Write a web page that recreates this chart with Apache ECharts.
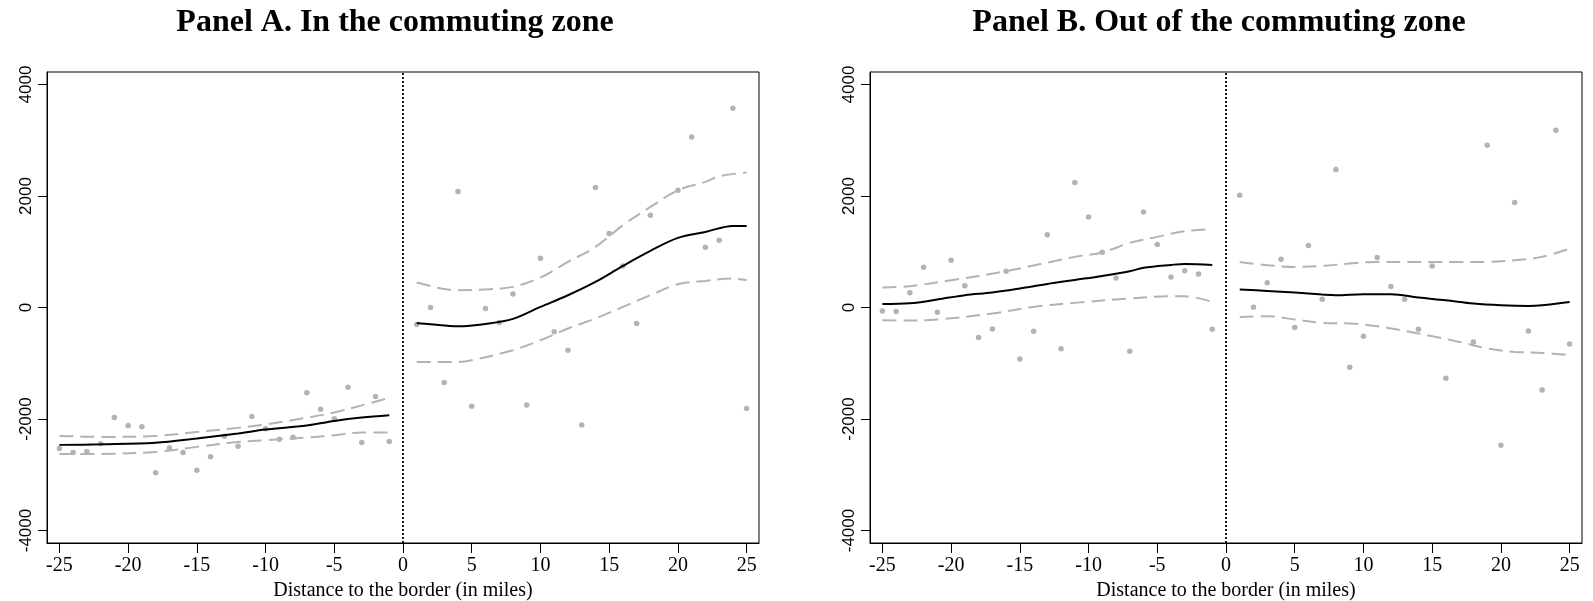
<!DOCTYPE html>
<html>
<head>
<meta charset="utf-8">
<script src="https://cdn.jsdelivr.net/npm/echarts@6/dist/echarts.min.js"></script>
<style>
html,body{margin:0;padding:0;background:#fff;}
#chart{width:1593px;height:601px;}
</style>
</head>
<body>
<div id="chart"></div>
<script>
// ---- tick labels ----
const xTicks = [-25, -20, -15, -10, -5, 0, 5, 10, 15, 20, 25];
const yTicks = [-4000, -2000, 0, 2000, 4000];
const panelTitles = ['Panel A. In the commuting zone', 'Panel B. Out of the commuting zone'];
const xAxisTitle = 'Distance to the border (in miles)';

// ---- Panel A: binned means ----
const aPtsLeftX = [-25,-24,-23,-22,-21,-20,-19,-18,-17,-16,-15,-14,-13,-12,-11,-10,-9,-8,-7,-6,-5,-4,-3,-2,-1];
const aPtsLeftY = [-2529,-2601,-2583,-2446,-1973,-2117,-2141,-2966,-2518,-2601,-2918,-2679,-2308,-2488,-1955,-2177,-2362,-2326,-1531,-1824,-1997,-1430,-2422,-1597,-2404];
const aPtsRightX = [1,2,3,4,5,6,7,8,9,10,11,12,13,14,15,16,17,18,20,21,22,23,24,25];
const aPtsRightY = [-305,0,-1345,2081,-1770,-18,-269,244,-1747,884,-437,-766,-2106,2152,1327,746,-287,1656,2104,3060,1082,1207,3575,-1812];

// ---- Panel A: fitted lines and confidence bands ----
const aFitLeftX = [-25,-22,-18,-15,-12,-10,-7,-5,-3,-1];
const aFitLeftY = [-2464,-2455,-2428,-2350,-2260,-2189,-2117,-2034,-1973,-1932];
const aUpLeftX = [-25,-22,-18,-15,-12,-10,-7,-5,-3,-1];
const aUpLeftY = [-2303,-2321,-2303,-2231,-2159,-2099,-1975,-1883,-1755,-1621];
const aLoLeftX = [-25,-22,-18,-15,-12,-10,-7,-5,-3,-1];
const aLoLeftY = [-2626,-2626,-2590,-2500,-2412,-2380,-2332,-2290,-2242,-2242];

const aFitRightX = [1,2,4,6,8,10,12,14,16,18,20,22,24,25];
const aFitRightY = [-276,-300,-335,-294,-204,11,220,459,746,1015,1248,1356,1464,1464];
const aUpRightX = [1,2,3,4,6,8,10,12,14,16,18,20,22,23,25];
const aUpRightY = [448,385,330,310,323,370,538,818,1087,1476,1804,2104,2253,2355,2421];
const aLoRightX = [1,4,5,8,10,12,14,16,18,20,22,24,25];
const aLoRightY = [-976,-976,-945,-766,-587,-377,-197,11,221,418,477,520,490];

// ---- Panel B: binned means ----
const bPtsLeftX = [-25,-24,-23,-22,-21,-20,-19,-18,-17,-16,-15,-14,-13,-12,-11,-10,-9,-8,-7,-6,-5,-4,-3,-2,-1];
const bPtsLeftY = [-61,-72,265,723,-84,848,388,-538,-384,651,-922,-425,1303,-742,2242,1625,992,531,-784,1715,1130,549,657,603,-389];
const bPtsRightX = [1,2,3,4,5,6,7,8,9,10,11,12,13,14,15,16,18,19,20,21,22,23,24,25];
const bPtsRightY = [2014,5,442,866,-359,1112,149,2475,-1071,-515,897,377,149,-389,746,-1268,-617,2910,-2470,1883,-420,-1478,3180,-653];

// ---- Panel B: fitted lines and confidence bands ----
const bFitLeftX = [-25,-23,-21,-19,-17,-15,-13,-11,-9,-7,-6,-4,-3,-1];
const bFitLeftY = [65,77,143,221,269,341,423,495,567,651,711,764,782,764];
const bUpLeftX = [-25,-23,-20,-16,-11,-9,-7,-5,-3,-1];
const bUpLeftY = [359,382,490,651,908,987,1159,1267,1369,1404];
const bLoLeftX = [-25,-23,-21,-17,-14,-11,-7,-4,-3,-1];
const bLoLeftY = [-228,-234,-215,-108,11,83,161,203,203,100];

const bFitRightX = [1,3,5,7,8,10,12,14,16,18,20,22,23,25];
const bFitRightY = [323,298,269,233,221,239,239,179,131,72,41,29,41,100];
const bUpRightX = [1,3,5,7,9,11,13,15,17,19,21,23,25];
const bUpRightY = [818,759,728,746,789,818,818,818,818,818,848,908,1058];
const bLoRightX = [1,3,5,7,9,11,13,15,17,19,21,23,25];
const bLoRightY = [-169,-156,-215,-276,-287,-335,-420,-515,-617,-735,-796,-814,-856];

// ---------------------------------------------------------
const pairs = (xs, ys) => xs.map((x, i) => [x, ys[i]]);
const SERIF = '"Liberation Serif", "Times New Roman", serif';
const SANS = '"Liberation Sans", Arial, sans-serif';

function makeX(gi) {
  return {
    type: 'value', gridIndex: gi, min: -25.9, max: 25.9,
    axisLine: { show: true, onZero: false, lineStyle: { color: '#000', width: 1 } },
    axisTick: { show: true, customValues: xTicks, length: 10, inside: false, lineStyle: { color: '#000', width: 1 } },
    axisLabel: { show: true, customValues: xTicks, margin: 13, color: '#000', fontFamily: SERIF, fontSize: 20,
      formatter: v => String(v) },
    splitLine: { show: false },
    name: xAxisTitle, nameLocation: 'middle', nameGap: 29,
    nameTextStyle: { color: '#000', fontFamily: SERIF, fontSize: 20 }
  };
}
function makeY(gi) {
  return {
    type: 'value', gridIndex: gi, min: -4224, max: 4224,
    axisLine: { show: true, onZero: false, lineStyle: { color: '#000', width: 1 } },
    axisTick: { show: true, customValues: yTicks, length: 9, inside: false, lineStyle: { color: '#000', width: 1 } },
    axisLabel: { show: true, customValues: yTicks, rotate: 90, margin: 12, color: '#000', fontFamily: SANS, fontSize: 17,
      formatter: v => String(v) },
    splitLine: { show: false }
  };
}
function pts(gi, xs, ys) {
  return { type: 'scatter', xAxisIndex: gi, yAxisIndex: gi, data: pairs(xs, ys), symbol: 'circle', symbolSize: 5.5,
    itemStyle: { color: '#a0a0a0' }, silent: true, z: 2 };
}
function fit(gi, xs, ys) {
  return { type: 'line', xAxisIndex: gi, yAxisIndex: gi, data: pairs(xs, ys), smooth: 0.35, showSymbol: false, symbol: 'none',
    lineStyle: { color: '#000', width: 2 }, silent: true, z: 4 };
}
function band(gi, xs, ys) {
  return { type: 'line', xAxisIndex: gi, yAxisIndex: gi, data: pairs(xs, ys), smooth: 0.35, showSymbol: false, symbol: 'none',
    lineStyle: { color: '#b3b3b3', width: 2, type: [14, 7] }, silent: true, z: 3 };
}
function border(gi) {
  return { type: 'line', xAxisIndex: gi, yAxisIndex: gi, data: [], silent: true,
    markLine: { silent: true, symbol: 'none', label: { show: false }, animation: false,
      lineStyle: { color: '#000', type: [2, 2], width: 1.8 }, data: [{ xAxis: 0 }] } };
}

const chart = echarts.init(document.getElementById('chart'), null, { renderer: 'canvas' });
chart.setOption({
  animation: false,
  backgroundColor: '#fff',
  title: [
    { text: panelTitles[0], left: 390, top: 2, textAlign: 'center',
      textStyle: { fontFamily: SERIF, fontWeight: 'bold', fontSize: 32, color: '#000' } },
    { text: panelTitles[1], left: 1214, top: 2, textAlign: 'center',
      textStyle: { fontFamily: SERIF, fontWeight: 'bold', fontSize: 32, color: '#000' } }
  ],
  grid: [
    { left: 47, top: 72, width: 712, height: 471, show: true, borderColor: '#000', borderWidth: 1, backgroundColor: 'transparent', containLabel: false, outerBoundsMode: 'none' },
    { left: 870, top: 72, width: 712, height: 471, show: true, borderColor: '#000', borderWidth: 1, backgroundColor: 'transparent', containLabel: false, outerBoundsMode: 'none' }
  ],
  xAxis: [makeX(0), makeX(1)],
  yAxis: [makeY(0), makeY(1)],
  series: [
    border(0),
    pts(0, aPtsLeftX, aPtsLeftY), pts(0, aPtsRightX, aPtsRightY),
    band(0, aUpLeftX, aUpLeftY), band(0, aLoLeftX, aLoLeftY),
    band(0, aUpRightX, aUpRightY), band(0, aLoRightX, aLoRightY),
    fit(0, aFitLeftX, aFitLeftY), fit(0, aFitRightX, aFitRightY),
    border(1),
    pts(1, bPtsLeftX, bPtsLeftY), pts(1, bPtsRightX, bPtsRightY),
    band(1, bUpLeftX, bUpLeftY), band(1, bLoLeftX, bLoLeftY),
    band(1, bUpRightX, bUpRightY), band(1, bLoRightX, bLoRightY),
    fit(1, bFitLeftX, bFitLeftY), fit(1, bFitRightX, bFitRightY)
  ]
});
</script>
</body>
</html>
